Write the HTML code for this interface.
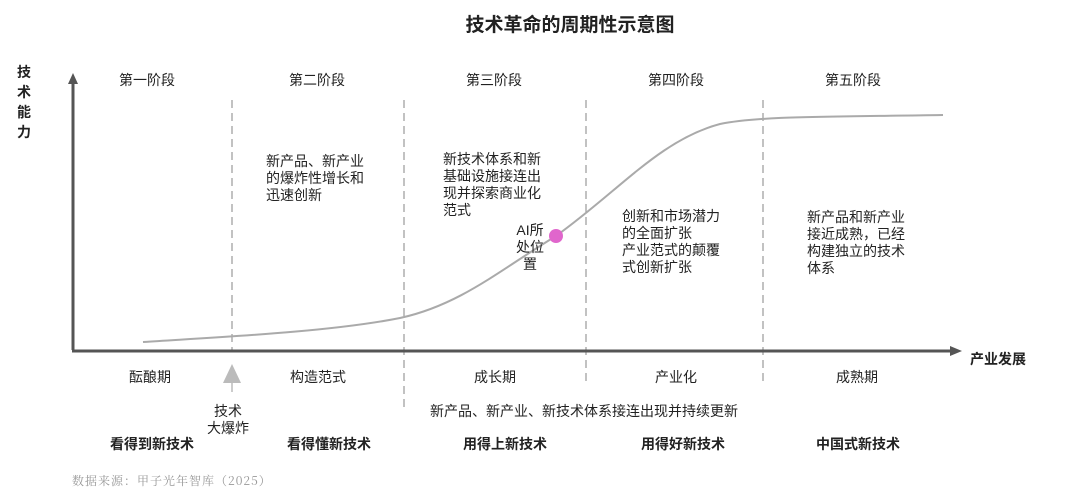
<!DOCTYPE html>
<html><head><meta charset="utf-8"><style>
body{margin:0;width:1080px;height:503px;background:#fff;position:relative;overflow:hidden;font-family:"Liberation Sans","Noto Sans CJK SC",sans-serif;color:#222}
.t{position:absolute;font-size:14px;line-height:17px;white-space:nowrap}
.c{transform:translateX(-50%);text-align:center}
.b{font-weight:bold}
</style></head><body>
<svg width="1080" height="503" style="position:absolute;left:0;top:0">
<g stroke="#999" stroke-width="1.2" stroke-dasharray="8,5">
<line x1="232" y1="100" x2="232" y2="350"/>
<line x1="404" y1="100" x2="404" y2="408"/>
<line x1="586" y1="100" x2="586" y2="385"/>
<line x1="763" y1="100" x2="763" y2="385"/>
</g>
<path d="M73,350 V82" stroke="#555" stroke-width="3" fill="none"/>
<polygon points="73,73 68,84 78,84" fill="#555"/>
<path d="M72,351 H952" stroke="#555" stroke-width="3" fill="none"/>
<polygon points="962,351 950,346 950,356" fill="#555"/>
<path d="M143,342 C220,337 330,332 400,318 C460,305 500,270 556,236 C620,190 660,140 720,124 C760,116 820,117 943,115" stroke="#aaa" stroke-width="2" fill="none"/>
<circle cx="556" cy="236" r="7" fill="#e066cc"/>
<polygon points="232,364 223,383 241,383" fill="#bbb"/>
<line x1="232" y1="383" x2="232" y2="392" stroke="#ccc" stroke-width="2"/>
</svg>
<div class="t c b" style="left:570px;top:15px;font-size:19px;line-height:22px">技术革命的周期性示意图</div>
<div class="t b" style="left:17px;top:62px;font-size:14px;line-height:20px;white-space:normal;width:16px">技术能力</div>
<div class="t b" style="left:970px;top:351px">产业发展</div>
<div class="t c" style="left:147px;top:72px">第一阶段</div>
<div class="t c" style="left:317px;top:72px">第二阶段</div>
<div class="t c" style="left:494px;top:72px">第三阶段</div>
<div class="t c" style="left:676px;top:72px">第四阶段</div>
<div class="t c" style="left:853px;top:72px">第五阶段</div>
<div class="t" style="left:266px;top:153px">新产品、新产业<br>的爆炸性增长和<br>迅速创新</div>
<div class="t" style="left:443px;top:151px">新技术体系和新<br>基础设施接连出<br>现并探索商业化<br>范式</div>
<div class="t c" style="left:530px;top:222px">AI所<br>处位<br>置</div>
<div class="t" style="left:622px;top:208px">创新和市场潜力<br>的全面扩张<br>产业范式的颠覆<br>式创新扩张</div>
<div class="t" style="left:807px;top:209px">新产品和新产业<br>接近成熟，已经<br>构建独立的技术<br>体系</div>
<div class="t c" style="left:150px;top:369px">酝酿期</div>
<div class="t c" style="left:318px;top:369px">构造范式</div>
<div class="t c" style="left:495px;top:369px">成长期</div>
<div class="t c" style="left:676px;top:369px">产业化</div>
<div class="t c" style="left:857px;top:369px">成熟期</div>
<div class="t c" style="left:228px;top:403px">技术<br>大爆炸</div>
<div class="t c" style="left:584px;top:403px">新产品、新产业、新技术体系接连出现并持续更新</div>
<div class="t c b" style="left:152px;top:436px">看得到新技术</div>
<div class="t c b" style="left:329px;top:436px">看得懂新技术</div>
<div class="t c b" style="left:505px;top:436px">用得上新技术</div>
<div class="t c b" style="left:683px;top:436px">用得好新技术</div>
<div class="t c b" style="left:858px;top:436px">中国式新技术</div>
<div class="t" style="left:72px;top:472px;font-size:12px;color:#999;font-family:'Noto Serif CJK SC',serif;letter-spacing:1px">数据来源：甲子光年智库（2025）</div>
</body></html>
